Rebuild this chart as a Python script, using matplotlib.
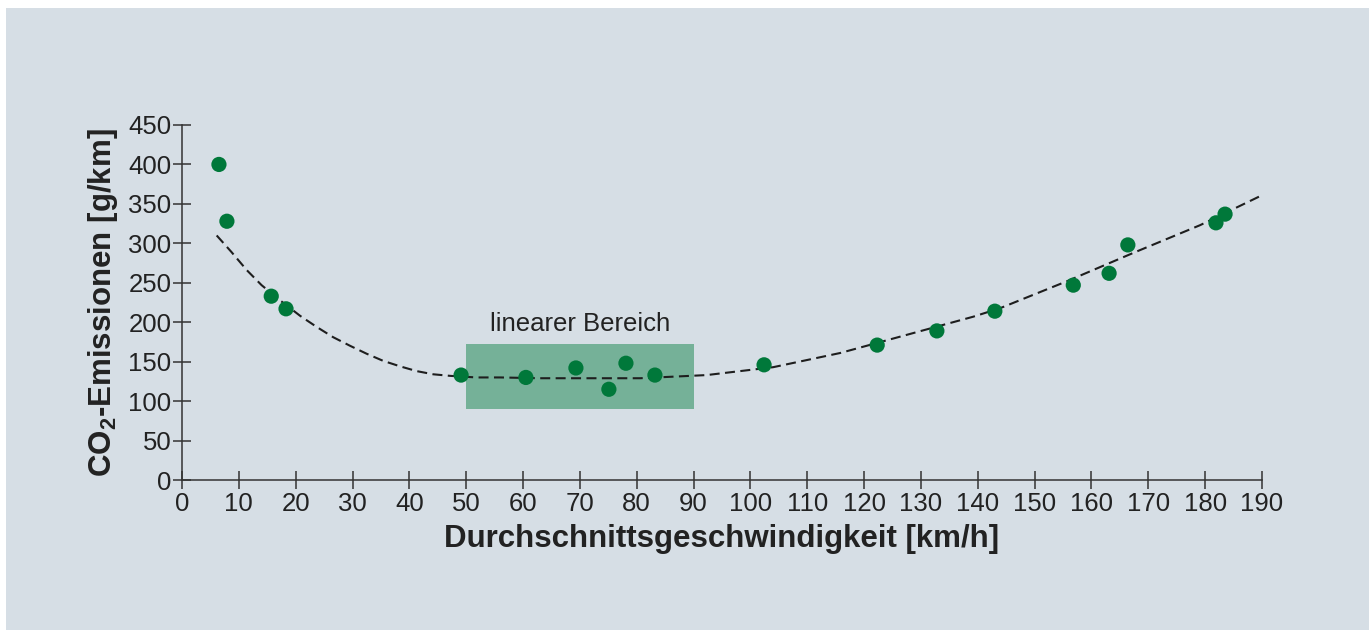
import matplotlib
matplotlib.use("Agg")
import matplotlib.pyplot as plt
from matplotlib.patches import Rectangle

# measured points (speed km/h, CO2 g/km)
speed = [6.5, 7.9, 15.7, 18.3, 49.1, 60.5, 69.3, 75.1, 78.1, 83.2,
         102.4, 122.3, 132.8, 143.0, 156.8, 163.1, 166.4, 181.9, 183.5]
co2 = [400, 328, 233, 217, 133, 130, 142, 115, 148, 133,
       146, 171, 189, 214, 247, 262, 298, 326, 337]

# dashed trend curve
curve_x = [6.1, 8.7, 11.4, 14.0, 17.2, 20.8, 23.7, 26.6, 29.6, 32.5, 35.4,
           38.4, 41.3, 44.2, 47.2, 51.8, 56.0, 63.0, 72.0, 80.6, 92.3,
           104.0, 115.8, 127.5, 139.2, 144.0, 155.7, 167.4, 179.1, 190.0]
curve_y = [310, 289, 266, 247, 228, 208, 194, 181, 170, 160, 151,
           144, 138, 134, 132, 130, 130, 129, 129, 129, 133,
           143, 161, 184, 207, 218, 252, 288, 323, 361]

# linear range box
lin_x = (50, 90)
lin_y = (90, 172)

plt.rcParams["font.family"] = ["Liberation Sans", "DejaVu Sans"]
plt.rcParams["mathtext.fontset"] = "custom"
plt.rcParams["mathtext.rm"] = "Liberation Sans:bold"
plt.rcParams["mathtext.bf"] = "Liberation Sans:bold"

W, H = 1369, 630
fig = plt.figure(figsize=(W / 100, H / 100), dpi=100)
fig.patch.set_facecolor("white")
fig.patches.append(Rectangle((6 / W, 0), 1 - 6 / W, 1 - 7.5 / H,
                             transform=fig.transFigure, facecolor="#d6dee5",
                             edgecolor="none", zorder=-10))

ax = fig.add_axes([182 / W, 1 - 480 / H, 1080 / W, 355 / H])
ax.set_facecolor("none")

green = "#00783a"
ax.add_patch(Rectangle((lin_x[0], lin_y[0]), lin_x[1] - lin_x[0], lin_y[1] - lin_y[0],
                       facecolor="#75b198", edgecolor="none", zorder=1))
ax.text(sum(lin_x) / 2, lin_y[1] + 11, "linearer Bereich", ha="center", va="bottom",
        fontsize=18.5, color="#222222")

ax.plot(curve_x, curve_y, color="#1e1e1e", lw=1.5, linestyle=(0, (4.8, 2.6)),
        zorder=2, clip_on=False)
ax.scatter(speed, co2, s=120, color=green, edgecolors="none", zorder=3, clip_on=False)

ax.set_xlim(0, 190)
ax.set_ylim(0, 450)
ax.set_xticks(range(0, 191, 10))
ax.set_yticks(range(0, 451, 50))

for side in ("top", "right"):
    ax.spines[side].set_visible(False)
for side in ("left", "bottom"):
    ax.spines[side].set_color("#333333")
    ax.spines[side].set_linewidth(1.1)
ax.spines["left"].set_bounds(0, 450)
ax.spines["bottom"].set_bounds(0, 190)

ax.tick_params(axis="both", direction="inout", length=13, width=1.1,
               color="#333333", labelsize=18.5, labelcolor="#222222")
ax.tick_params(axis="x", pad=2)
ax.tick_params(axis="y", pad=1)

ax.set_xlabel("Durchschnittsgeschwindigkeit [km/h]", fontsize=22.5,
              fontweight="bold", color="#222222", labelpad=6)
ax.set_ylabel(r"CO$_\mathrm{2}$-Emissionen [g/km]", fontsize=22.5,
              fontweight="bold", color="#222222", labelpad=6)

fig.savefig("out.png", dpi=100)
